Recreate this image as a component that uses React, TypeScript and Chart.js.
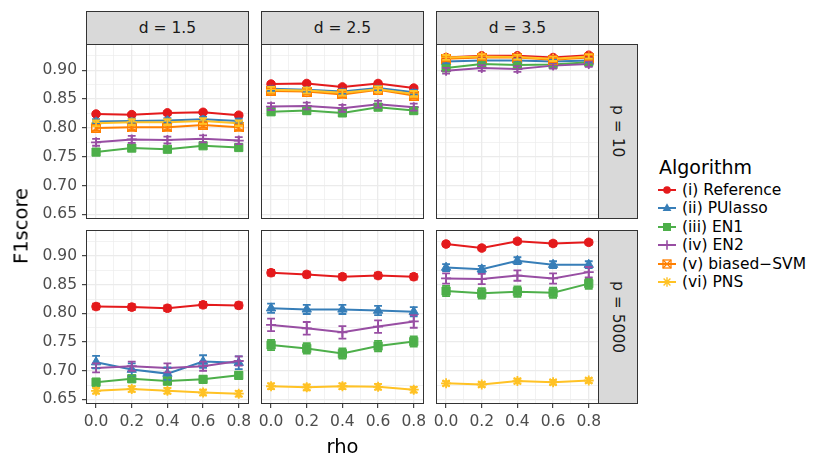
import React, { useEffect, useRef } from "react";
import { Chart, registerables } from "chart.js";

Chart.register(...registerables);

// ---------------- data ----------------
const RHO = [0.0, 0.2, 0.4, 0.6, 0.8];
const X_MAJOR = [0.0, 0.2, 0.4, 0.6, 0.8];
const X_MINOR = [0.1, 0.3, 0.5, 0.7];
const Y_MAJOR = [0.65, 0.7, 0.75, 0.8, 0.85, 0.9];
const Y_MINOR = [0.675, 0.725, 0.775, 0.825, 0.875, 0.925];
const D_LABELS = ["d = 1.5", "d = 2.5", "d = 3.5"];
const P_LABELS = ["p = 10", "p = 5000"];
const ALGORITHMS = [
  "(i) Reference",
  "(ii) PUlasso",
  "(iii) EN1",
  "(iv) EN2",
  "(v) biased\u2212SVM",
  "(vi) PNS",
];

// mean F1 score, p = 10, one row per d (1.5, 2.5, 3.5), columns by rho
const REF_P10 = [
  [0.824, 0.823, 0.826, 0.827, 0.822],
  [0.876, 0.877, 0.871, 0.877, 0.869],
  [0.922, 0.925, 0.925, 0.922, 0.926],
];
const PUL_P10 = [
  [0.811, 0.812, 0.813, 0.815, 0.812],
  [0.868, 0.866, 0.863, 0.869, 0.862],
  [0.915, 0.917, 0.917, 0.915, 0.917],
];
const EN1_P10 = [
  [0.758, 0.765, 0.763, 0.769, 0.766],
  [0.828, 0.83, 0.826, 0.836, 0.83],
  [0.904, 0.911, 0.909, 0.91, 0.914],
];
const EN2_P10 = [
  [0.775, 0.78, 0.779, 0.781, 0.778],
  [0.837, 0.838, 0.834, 0.841, 0.836],
  [0.899, 0.904, 0.902, 0.908, 0.911],
];
const SVM_P10 = [
  [0.8, 0.801, 0.801, 0.805, 0.801],
  [0.864, 0.863, 0.858, 0.866, 0.856],
  [0.92, 0.922, 0.922, 0.918, 0.922],
];
const PNS_P10 = [
  [0.808, 0.81, 0.81, 0.812, 0.808],
  [0.866, 0.865, 0.861, 0.867, 0.859],
  [0.922, 0.924, 0.923, 0.92, 0.924],
];

// mean F1 score, p = 5000
const REF_P5000 = [
  [0.812, 0.811, 0.809, 0.815, 0.814],
  [0.871, 0.868, 0.864, 0.866, 0.864],
  [0.921, 0.914, 0.926, 0.922, 0.924],
];
const PUL_P5000 = [
  [0.715, 0.702, 0.695, 0.716, 0.714],
  [0.809, 0.807, 0.807, 0.805, 0.803],
  [0.88, 0.877, 0.892, 0.885, 0.885],
];
const EN1_P5000 = [
  [0.68, 0.686, 0.682, 0.685, 0.692],
  [0.745, 0.739, 0.73, 0.743, 0.751],
  [0.839, 0.835, 0.838, 0.836, 0.852],
];
const EN2_P5000 = [
  [0.705, 0.708, 0.705, 0.708, 0.717],
  [0.78, 0.774, 0.767, 0.777, 0.786],
  [0.861, 0.86, 0.866, 0.861, 0.872],
];
const SVM_P5000: number[][] = [[], [], []];
const PNS_P5000 = [
  [0.665, 0.668, 0.665, 0.662, 0.66],
  [0.673, 0.671, 0.673, 0.672, 0.667],
  [0.678, 0.676, 0.682, 0.68, 0.683],
];

// half-width of error bars, per d panel
const REF_SE_P10 = [0.003, 0.003, 0.003];
const PUL_SE_P10 = [0.004, 0.004, 0.003];
const EN1_SE_P10 = [0.004, 0.005, 0.004];
const EN2_SE_P10 = [0.006, 0.006, 0.005];
const SVM_SE_P10 = [0.005, 0.005, 0.004];
const PNS_SE_P10 = [0.005, 0.005, 0.004];
const REF_SE_P5000 = [0.005, 0.005, 0.004];
const PUL_SE_P5000 = [0.011, 0.008, 0.006];
const EN1_SE_P5000 = [0.006, 0.009, 0.009];
const EN2_SE_P5000 = [0.008, 0.011, 0.009];
const SVM_SE_P5000 = [0, 0, 0];
const PNS_SE_P5000 = [0.005, 0.005, 0.004];

// ---------------- styles ----------------
const COLORS = ["#E41A1C", "#377EB8", "#4DAF4A", "#984EA3", "#FF7F00", "#FFC225"];
const FONT = "'DejaVu Sans', 'Liberation Sans', sans-serif";
const X_MIN = -0.0565;
const X_MAX = 0.8575;
const Y_MIN = 0.642;
const Y_MAX = 0.9455;
const CAP = 0.022;

const PANEL_LEFT = [86, 261, 436];
const PANEL_W = 163;
const PANEL_TOP = [44, 230];
const PANEL_H = [175, 174];
const Y_AXIS_W = 66;
const PAD_TOP = 8;
const PAD_RIGHT = 22;

const MEANS = [
  [REF_P10, PUL_P10, EN1_P10, EN2_P10, SVM_P10, PNS_P10],
  [REF_P5000, PUL_P5000, EN1_P5000, EN2_P5000, SVM_P5000, PNS_P5000],
];
const SES = [
  [REF_SE_P10, PUL_SE_P10, EN1_SE_P10, EN2_SE_P10, SVM_SE_P10, PNS_SE_P10],
  [REF_SE_P5000, PUL_SE_P5000, EN1_SE_P5000, EN2_SE_P5000, SVM_SE_P5000, PNS_SE_P5000],
];

const near = (a: number, list: number[]) => list.some((v) => Math.abs(v - a) < 1e-6);

function squareCross(color: string, size = 10): HTMLCanvasElement {
  const c = document.createElement("canvas");
  c.width = size;
  c.height = size;
  const g = c.getContext("2d")!;
  g.strokeStyle = color;
  g.lineWidth = 1.4;
  g.strokeRect(0.7, 0.7, size - 1.4, size - 1.4);
  g.beginPath();
  g.moveTo(0.7, 0.7);
  g.lineTo(size - 0.7, size - 0.7);
  g.moveTo(size - 0.7, 0.7);
  g.lineTo(0.7, size - 0.7);
  g.stroke();
  return c;
}

const errorBarPlugin = {
  id: "errorBars",
  afterDatasetsDraw(chart: any) {
    const { ctx, chartArea } = chart;
    const xs = chart.scales.x;
    const ys = chart.scales.y;
    ctx.save();
    ctx.beginPath();
    ctx.rect(chartArea.left, chartArea.top, chartArea.width, chartArea.height);
    ctx.clip();
    chart.data.datasets.forEach((ds: any) => {
      ctx.strokeStyle = ds.borderColor;
      ctx.lineWidth = 1.8;
      ds.data.forEach((pt: any) => {
        const px = xs.getPixelForValue(pt.x);
        const x0 = xs.getPixelForValue(pt.x - CAP);
        const x1 = xs.getPixelForValue(pt.x + CAP);
        const yt = ys.getPixelForValue(pt.y + ds.se);
        const yb = ys.getPixelForValue(pt.y - ds.se);
        ctx.beginPath();
        ctx.moveTo(px, yt);
        ctx.lineTo(px, yb);
        ctx.moveTo(x0, yt);
        ctx.lineTo(x1, yt);
        ctx.moveTo(x0, yb);
        ctx.lineTo(x1, yb);
        ctx.stroke();
      });
    });
    ctx.restore();
  },
};

const borderPlugin = {
  id: "panelBorder",
  afterDraw(chart: any) {
    const { ctx, chartArea } = chart;
    ctx.save();
    ctx.strokeStyle = "#333333";
    ctx.lineWidth = 1;
    ctx.strokeRect(
      Math.round(chartArea.left) + 0.5,
      Math.round(chartArea.top) + 0.5,
      Math.round(chartArea.width) - 1,
      Math.round(chartArea.height) - 1
    );
    ctx.restore();
  },
};

const POINT_STYLE = ["circle", "triangle", "rect", "cross", "svm", "star"];
const POINT_RADIUS = [4.3, 5.4, 5.8, 5, 5, 5];

function Panel({ row, col }: { row: number; col: number }) {
  const ref = useRef<HTMLCanvasElement>(null);
  const xh = row === 1 ? 40 : 12;
  const w = Y_AXIS_W + PANEL_W + PAD_RIGHT;
  const h = PAD_TOP + PANEL_H[row] + xh;
  const left = PANEL_LEFT[col] - Y_AXIS_W;
  const top = PANEL_TOP[row] - PAD_TOP;

  useEffect(() => {
    const datasets: any[] = [];
    ALGORITHMS.forEach((name, i) => {
      const vals = MEANS[row][i][col];
      if (!vals || vals.length === 0) return;
      const style = POINT_STYLE[i] === "svm" ? squareCross(COLORS[i]) : POINT_STYLE[i];
      datasets.push({
        label: name,
        data: RHO.map((x, k) => ({ x, y: vals[k] })),
        se: SES[row][i][col],
        borderColor: COLORS[i],
        backgroundColor: COLORS[i],
        pointBackgroundColor: COLORS[i],
        pointBorderColor: COLORS[i],
        pointStyle: style,
        pointRadius: POINT_RADIUS[i],
        pointBorderWidth: i === 3 || i === 5 ? 1.8 : 1,
        borderWidth: 2,
        tension: 0,
        fill: false,
        order: ALGORITHMS.length - 1 - i,
      });
    });

    const gridWidth = (list: number[]) => (c: any) =>
      c.tick && near(c.tick.value, list) ? 1.3 : 0.65;
    const tickCol = (list: number[]) => (c: any) =>
      c.tick && near(c.tick.value, list) ? "#333333" : "rgba(0,0,0,0)";

    const chart = new Chart(ref.current!, {
      type: "line",
      data: { datasets },
      options: {
        animation: false,
        responsive: false,
        events: [],
        layout: { autoPadding: false, padding: { left: 0, right: PAD_RIGHT, top: PAD_TOP, bottom: 0 } },
        plugins: { legend: { display: false }, tooltip: { enabled: false }, title: { display: false } },
        scales: {
          x: {
            type: "linear",
            min: X_MIN,
            max: X_MAX,
            bounds: "data",
            afterBuildTicks: (s: any) => {
              s.ticks = [...X_MAJOR, ...X_MINOR].sort((a, b) => a - b).map((v) => ({ value: v }));
            },
            afterFit: (s: any) => {
              s.height = xh;
              s.paddingLeft = 0;
              s.paddingRight = 0;
              s.paddingTop = 0;
              s.paddingBottom = 0;
            },
            border: { display: false },
            grid: {
              color: "#EBEBEB",
              lineWidth: gridWidth(X_MAJOR),
              drawTicks: row === 1,
              tickLength: 4,
              tickColor: tickCol(X_MAJOR),
              tickWidth: 1.1,
            },
            ticks: {
              display: row === 1,
              autoSkip: false,
              maxRotation: 0,
              padding: 5,
              color: "#4D4D4D",
              font: { family: FONT, size: 15.5 },
              callback: (v: any) => (near(Number(v), X_MAJOR) ? Number(v).toFixed(1) : ""),
            },
          },
          y: {
            type: "linear",
            min: Y_MIN,
            max: Y_MAX,
            bounds: "data",
            afterBuildTicks: (s: any) => {
              s.ticks = [...Y_MAJOR, ...Y_MINOR].sort((a, b) => a - b).map((v) => ({ value: v }));
            },
            afterFit: (s: any) => {
              s.width = Y_AXIS_W;
              s.paddingLeft = 0;
              s.paddingRight = 0;
              s.paddingTop = 0;
              s.paddingBottom = 0;
            },
            border: { display: false },
            grid: {
              color: "#EBEBEB",
              lineWidth: gridWidth(Y_MAJOR),
              drawTicks: col === 0,
              tickLength: 4,
              tickColor: tickCol(Y_MAJOR),
              tickWidth: 1.1,
            },
            ticks: {
              display: col === 0,
              autoSkip: false,
              padding: 5,
              color: "#4D4D4D",
              font: { family: FONT, size: 15.5 },
              callback: (v: any) => (near(Number(v), Y_MAJOR) ? Number(v).toFixed(2) : ""),
            },
          },
        },
      } as any,
      plugins: [errorBarPlugin, borderPlugin],
    });
    return () => chart.destroy();
  }, []);

  return (
    <canvas
      ref={ref}
      width={w}
      height={h}
      style={{ position: "absolute", left, top, width: w, height: h }}
    />
  );
}

function LegendKey({ i }: { i: number }) {
  const c = COLORS[i];
  const cx = 9;
  const cy = 9;
  let shape: React.ReactNode = null;
  if (i === 0) shape = <circle cx={cx} cy={cy} r={3.8} fill={c} />;
  if (i === 1) shape = <polygon points={`${cx},${cy - 4.8} ${cx + 4.4},${cy + 3} ${cx - 4.4},${cy + 3}`} fill={c} />;
  if (i === 2) shape = <rect x={cx - 4} y={cy - 4} width={8} height={8} fill={c} />;
  if (i === 3)
    shape = (
      <path d={`M${cx - 4.8},${cy} L${cx + 4.8},${cy} M${cx},${cy - 4.8} L${cx},${cy + 4.8}`} stroke={c} strokeWidth={1.6} />
    );
  if (i === 4)
    shape = (
      <g stroke={c} strokeWidth={1.3} fill="none">
        <rect x={cx - 4} y={cy - 4} width={8} height={8} />
        <path d={`M${cx - 4},${cy - 4} L${cx + 4},${cy + 4} M${cx + 4},${cy - 4} L${cx - 4},${cy + 4}`} />
      </g>
    );
  if (i === 5)
    shape = (
      <path
        d={`M${cx - 4.8},${cy} L${cx + 4.8},${cy} M${cx},${cy - 4.8} L${cx},${cy + 4.8} M${cx - 3.4},${cy - 3.4} L${cx + 3.4},${cy + 3.4} M${cx + 3.4},${cy - 3.4} L${cx - 3.4},${cy + 3.4}`}
        stroke={c}
        strokeWidth={1.4}
      />
    );
  return (
    <svg width={18} height={18} style={{ position: "absolute", left: 0, top: 0 }}>
      <line x1={0} y1={cy} x2={18} y2={cy} stroke={c} strokeWidth={2} />
      {shape}
    </svg>
  );
}

export default function App() {
  const stripBase: React.CSSProperties = {
    position: "absolute",
    background: "#D9D9D9",
    border: "1px solid #333333",
    boxSizing: "border-box",
    display: "flex",
    alignItems: "center",
    justifyContent: "center",
    fontFamily: FONT,
    fontSize: 15.5,
    color: "#1A1A1A",
    whiteSpace: "nowrap",
  };
  const LEGEND_ROW_Y = [189.5, 208, 226.5, 245, 263.5, 282];
  return (
    <div
      style={{
        position: "absolute",
        left: 0,
        top: 0,
        width: 830,
        height: 464,
        background: "#FFFFFF",
        overflow: "hidden",
        fontFamily: FONT,
      }}
    >
      {D_LABELS.map((d, c) => (
        <div key={d} style={{ ...stripBase, left: PANEL_LEFT[c], top: 11, width: PANEL_W, height: 34 }}>
          {d}
        </div>
      ))}
      {P_LABELS.map((p, r) => (
        <div
          key={p}
          style={{ ...stripBase, left: PANEL_LEFT[2] + PANEL_W - 1, top: PANEL_TOP[r], width: 40, height: PANEL_H[r] }}
        >
          <span style={{ writingMode: "vertical-rl" }}>{p}</span>
        </div>
      ))}
      {[0, 1].map((r) => [0, 1, 2].map((c) => <Panel key={`${r}-${c}`} row={r} col={c} />))}
      <div
        style={{
          position: "absolute",
          left: 21,
          top: 226,
          transform: "translate(-50%, -50%) rotate(-90deg)",
          fontSize: 19.5,
          color: "#000",
          whiteSpace: "nowrap",
        }}
      >
        F1score
      </div>
      <div
        style={{
          position: "absolute",
          left: 342.5,
          top: 446,
          transform: "translate(-50%, -50%)",
          fontSize: 19.5,
          color: "#000",
          whiteSpace: "nowrap",
        }}
      >
        rho
      </div>
      <div
        style={{
          position: "absolute",
          left: 659,
          top: 166.5,
          transform: "translateY(-50%)",
          fontSize: 19,
          color: "#000",
          whiteSpace: "nowrap",
        }}
      >
        Algorithm
      </div>
      {ALGORITHMS.map((a, i) => (
        <div key={a} style={{ position: "absolute", left: 658, top: LEGEND_ROW_Y[i] - 9, height: 18, width: 170 }}>
          <LegendKey i={i} />
          <div
            style={{
              position: "absolute",
              left: 24,
              top: 9,
              transform: "translateY(-50%)",
              fontSize: 15.5,
              color: "#000",
              whiteSpace: "nowrap",
            }}
          >
            {a}
          </div>
        </div>
      ))}
    </div>
  );
}
